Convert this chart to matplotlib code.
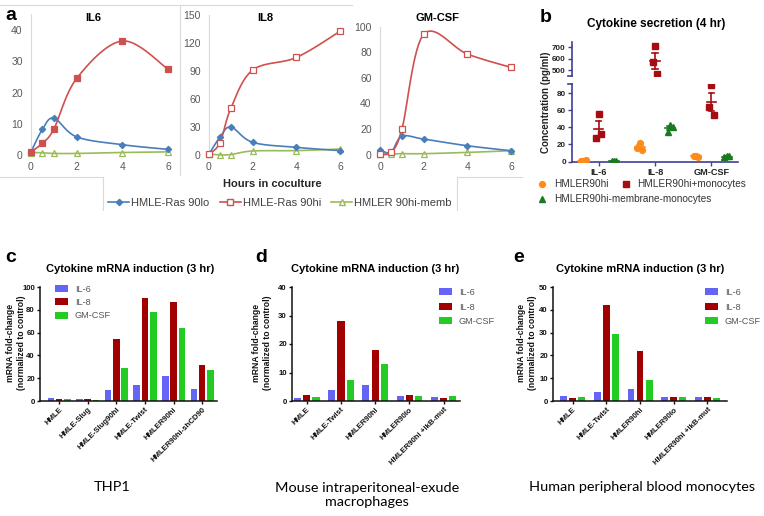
import numpy as np
import matplotlib
matplotlib.use('Agg')
import matplotlib.pyplot as plt
from matplotlib.lines import Line2D

plt.rcParams['font.family'] = ['Liberation Sans', 'DejaVu Sans']

W, H = 764, 516

# ---------------- Panel a data ----------------
hours = [0, 0.5, 1, 2, 4, 6]
a_series = ['HMLE-Ras 90lo', 'HMLE-Ras 90hi', 'HMLER 90hi-memb']
il6_lo = [1.0, 8.2, 11.8, 5.8, 3.3, 1.8]
il6_hi = [1.0, 3.8, 8.3, 24.5, 36.5, 27.5]
il6_memb = [0.8, 0.7, 0.5, 0.5, 0.8, 1.0]
il8_lo = [1.0, 19.0, 30.0, 13.6, 8.2, 4.7]
il8_hi = [1.0, 13.0, 50.0, 91.0, 104.5, 132.5]
il8_memb = [1.0, 0.2, 0.5, 4.3, 4.7, 6.4]
gm_lo = [3.9, 1.8, 14.3, 12.2, 7.0, 3.1]
gm_hi = [0.5, 2.0, 19.8, 94.0, 78.6, 68.2]
gm_memb = [0.8, 0.5, 0.8, 0.8, 1.8, 3.1]
a_xticks = [0, 2, 4, 6]

# ---------------- Panel b data ----------------
b_groups = ['IL-6', 'IL-8', 'GM-CSF']
b_series = ['HMLER90hi', 'HMLER90hi+monocytes', 'HMLER90hi-membrane-monocytes']
b_90hi = [[1.0, 0.5, 1.5], [22.0, 16.0, 13.0], [7.0, 6.0, 5.0]]
b_mono = [[55.7, 27.5, 32.2], [708.0, 568.0, 468.0], [89.8, 64.0, 54.0]]
b_memb = [[0.3, 0.5, 0.2], [43.0, 34.0, 40.0], [6.5, 5.0, 6.0]]

# ---------------- Panels c, d, e data ----------------
cyto = ['IL-6', 'IL-8', 'GM-CSF']
c_cats = ['HMLE', 'HMLE-Slug', 'HMLE-Slug90hi', 'HMLE-Twist', 'HMLER90hi', 'HMLER90hi-shCD90']
c_il6 = [2.6, 1.5, 10.0, 13.8, 21.7, 10.8]
c_il8 = [1.5, 1.5, 54.0, 90.0, 86.5, 32.0]
c_gm = [1.5, 0.9, 29.3, 78.0, 63.6, 27.0]
de_cats = ['HMLE', 'HMLE-Twist', 'HMLER90hi', 'HMLER90lo', 'HMLER90hi +IkB-mut']
d_il6 = [1.2, 3.7, 5.5, 1.9, 1.4]
d_il8 = [2.1, 28.2, 18.0, 2.0, 1.0]
d_gm = [1.5, 7.3, 12.9, 1.9, 1.6]
e_il6 = [2.1, 4.1, 5.3, 1.8, 1.6]
e_il8 = [1.5, 41.9, 22.1, 1.8, 1.6]
e_gm = [1.8, 29.6, 9.2, 1.8, 1.3]

fig = plt.figure(figsize=(W / 100, H / 100), dpi=100)
fig.patch.set_facecolor('white')


def axpx(l, t, r, b):
    return fig.add_axes([l / W, 1 - b / H, (r - l) / W, (b - t) / H])


def fx(x):
    return x / W


def fy(y):
    return 1 - y / H


def smooth(x, y, xr, yr, n=24):
    P = np.column_stack([np.asarray(x, float) / xr, np.asarray(y, float) / yr])
    P = np.vstack([P[0], P, P[-1]])
    out = []
    t = np.linspace(0, 1, n, endpoint=False)[:, None]
    for i in range(1, len(P) - 2):
        p0, p1, p2, p3 = P[i - 1], P[i], P[i + 1], P[i + 2]
        m1 = (p2 - p0) / 2.0
        m2 = (p3 - p1) / 2.0
        h00 = 2 * t**3 - 3 * t**2 + 1
        h10 = t**3 - 2 * t**2 + t
        h01 = -2 * t**3 + 3 * t**2
        h11 = t**3 - t**2
        out.append(h00 * p1 + h10 * m1 + h01 * p2 + h11 * m2)
    out.append(P[-2][None, :])
    S = np.vstack(out)
    return S[:, 0] * xr, S[:, 1] * yr


# frame lines (excel chart borders)
gray = '#d9d9d9'
for (x0, y0, x1, y1) in [(0, 5, 352, 5), (180, 5, 180, 175), (0, 177, 103, 177), (103, 177, 103, 210),
                         (457, 177, 457, 210), (457, 177, 522, 177)]:
    fig.add_artist(Line2D([fx(x0), fx(x1)], [fy(y0), fy(y1)], color=gray, lw=0.8))

A_BLUE = '#4a7ebb'
A_RED = '#d0504d'
A_GREEN = '#9bbb59'

a_specs = [
    ('IL6', (31, 14.4, 168, 155), (0, 45), [0, 10, 20, 30, 40], il6_lo, il6_hi, il6_memb, True, 93),
    ('IL8', (209, 15, 340, 155), (0, 150), [0, 30, 60, 90, 120, 150], il8_lo, il8_hi, il8_memb, False, 265),
    ('GM-CSF', (380, 26.7, 511, 154.7), (0, 100), [0, 20, 40, 60, 80, 100], gm_lo, gm_hi, gm_memb, False, 437),
]
for title, box, ylim, yt, lo, hi, memb, hifill, tx in a_specs:
    ax = axpx(*box)
    ax.set_xlim(0, 6)
    ax.set_ylim(*ylim)
    for s in ['top', 'right', 'bottom']:
        ax.spines[s].set_visible(False)
    ax.spines['left'].set_color(gray)
    ax.spines['left'].set_linewidth(0.8)
    ax.set_xticks(a_xticks)
    ax.set_yticks(yt)
    ax.tick_params(length=0, labelsize=7.5, labelcolor='#595959', pad=6)
    ax.tick_params(axis='x', pad=5)
    for vals, col, mk, fc in [(memb, A_GREEN, '^', 'none'), (lo, A_BLUE, 'D', A_BLUE),
                              (hi, A_RED, 's', A_RED if hifill else 'white')]:
        sx, sy = smooth(hours, vals, 6.0, ylim[1])
        ax.plot(sx, sy, color=col, lw=1.2, clip_on=False, zorder=2)
        ax.plot(hours, vals, ls='none', marker=mk, ms=3.8 if mk != 'D' else 3.2, mfc=fc, mec=col,
                mew=0.9, clip_on=False, zorder=3)
    fig.text(fx(tx), fy(18), title, ha='center', va='center', fontsize=8, fontweight='bold')

fig.text(fx(5), fy(15), 'a', ha='left', va='center', fontsize=14, fontweight='bold')
fig.text(fx(272), fy(184), 'Hours in coculture', ha='center', va='center', fontsize=8, fontweight='bold',
         color='#262626')
a_handles = [Line2D([], [], color=A_BLUE, marker='D', ms=3.2, lw=1.2),
             Line2D([], [], color=A_RED, marker='s', ms=3.8, mfc='white', lw=1.2),
             Line2D([], [], color=A_GREEN, marker='^', ms=3.8, mfc='white', lw=1.2)]
fig.legend(a_handles, a_series, loc='center', bbox_to_anchor=(fx(280), fy(203)), ncol=3, frameon=False,
           fontsize=8, handlelength=1.9, handletextpad=0.2, columnspacing=0.9, borderpad=0,
           labelcolor='#404040')

# ---------------- Panel b ----------------
B_OR = '#ff8c1a'
B_RED = '#a50d12'
B_GR = '#197a1f'
B_AX = '#3f3f95'
axU = axpx(572, 42, 738, 76)
axL = axpx(572, 84, 738, 161.5)
axU.set_ylim(451, 743)
axL.set_ylim(0, 90.6)
for ax in (axU, axL):
    ax.set_xlim(-0.47, 2.47)
    ax.spines['top'].set_visible(False)
    ax.spines['right'].set_visible(False)
    ax.spines['left'].set_color(B_AX)
    ax.spines['left'].set_linewidth(1.2)
    ax.tick_params(axis='y', colors=B_AX, labelcolor='#222222', labelsize=5.8, length=3, width=1, pad=1.5)
axU.spines['bottom'].set_visible(False)
axU.set_xticks([])
axU.set_yticks([500, 600, 700])
axL.set_yticks([0, 20, 40, 60, 80])
axL.spines['bottom'].set_color(B_AX)
axL.spines['bottom'].set_linewidth(1.2)
axL.set_xticks(range(len(b_groups)))
axL.set_xticklabels(b_groups, fontweight='bold', fontsize=6.6)
axL.tick_params(axis='x', colors=B_AX, labelcolor='#222222', length=3, width=1, pad=2)
for ax in (axU, axL):
    for lab in ax.get_yticklabels():
        lab.set_fontweight('bold')
# break marks
axU.plot([-0.025, 0], [0, 0], transform=axU.transAxes, color=B_AX, lw=1.2, clip_on=False)
axL.plot([-0.025, 0], [1, 1], transform=axL.transAxes, color=B_AX, lw=1.2, clip_on=False)

jit = [0.0, -0.04, 0.04]
for offs, data, col, mk, ms in [(-0.27, b_90hi, B_OR, 'o', 4.2), (0.0, b_mono, B_RED, 's', 4.2),
                                 (0.27, b_memb, B_GR, '^', 4.5)]:
    for gi, vals in enumerate(data):
        xc = gi + offs
        m = np.mean(vals)
        sem = np.std(vals, ddof=1) / np.sqrt(len(vals))
        for ax in (axU, axL):
            ax.plot([xc + j for j in jit], vals, ls='none', marker=mk, ms=ms, color=col, mec=col, zorder=3)
            ax.plot([xc - 0.085, xc + 0.085], [m, m], color=col, lw=1.2, zorder=4)
            ax.plot([xc, xc], [m - sem, m + sem], color=col, lw=1.2, zorder=4)
            for v in (m - sem, m + sem):
                ax.plot([xc - 0.05, xc + 0.05], [v, v], color=col, lw=1.2, zorder=4)

fig.text(fx(656), fy(24), 'Cytokine secretion (4 hr)', ha='center', va='center', fontsize=8.5,
         fontweight='bold')
fig.text(fx(546), fy(102), 'Concentration (pg/ml)', ha='center', va='center', rotation=90, fontsize=7,
         fontweight='bold', color='#222222')
fig.text(fx(540), fy(17), 'b', ha='left', va='center', fontsize=14, fontweight='bold')
b_handles = [Line2D([], [], ls='none', marker='o', ms=4.2, color=B_OR),
             Line2D([], [], ls='none', marker='s', ms=4.2, color=B_RED),
             Line2D([], [], ls='none', marker='^', ms=4.5, color=B_GR)]
fig.legend(b_handles[:2], b_series[:2], loc='center left', bbox_to_anchor=(fx(531), fy(184)), ncol=2,
           frameon=False, fontsize=7.2, handlelength=1.2, handletextpad=0.6, columnspacing=1.1, borderpad=0,
           labelcolor='#333333')
fig.legend(b_handles[2:], b_series[2:], loc='center left', bbox_to_anchor=(fx(531), fy(199)), ncol=1,
           frameon=False, fontsize=7.2, handlelength=1.2, handletextpad=0.6, borderpad=0,
           labelcolor='#333333')

# ---------------- Panels c, d, e ----------------
C_BLUE = '#6464f5'
C_RED = '#a00000'
C_GREEN = '#22cc22'
bar_specs = [
    ('c', (40, 287, 217, 401), (-0.67, 5.52), (0, 100), [0, 20, 40, 60, 80, 100], c_cats,
     (c_il6, c_il8, c_gm), 0.29, 0.23, 5, 130, (16, 343), (fx(55), fy(285)), 0.45),
    ('d', (292, 287, 460, 401), (-0.43, 4.48), (0, 40), [0, 10, 20, 30, 40], de_cats,
     (d_il6, d_il8, d_gm), 0.27, 0.21, 255, 375, (262, 343), (fx(439), fy(288)), 0.6),
    ('e', (553, 287, 727, 401), (-0.585, 4.58), (0, 50), [0, 10, 20, 30, 40, 50], de_cats,
     (e_il6, e_il8, e_gm), 0.27, 0.20, 513, 640, (527, 343), (fx(705), fy(288)), 0.6),
]
for (lab, box, xl, yl, yt, cats, series, step, bw, labx, titx, ylab, leg, lsp) in bar_specs:
    ax = axpx(*box)
    x = np.arange(len(cats))
    for k, (vals, col) in enumerate(zip(series, (C_BLUE, C_RED, C_GREEN))):
        ax.bar(x + (k - 1) * step, vals, width=bw, color=col, label=cyto[k], zorder=2)
    ax.set_xlim(*xl)
    ax.set_ylim(*yl)
    ax.set_yticks(yt)
    ax.set_xticks(x)
    ax.set_xticklabels(cats, rotation=45, ha='right', va='top', rotation_mode='anchor', fontsize=5.4,
                       fontweight='bold')
    for s in ['top', 'right']:
        ax.spines[s].set_visible(False)
    for s in ['left', 'bottom']:
        ax.spines[s].set_linewidth(1.1)
        ax.spines[s].set_color('#111111')
    ax.tick_params(length=2.5, width=1, labelsize=5.6, colors='#111111', pad=1.2)
    for t in ax.get_yticklabels():
        t.set_fontweight('bold')
    ax.legend(loc='upper left', bbox_to_anchor=leg, bbox_transform=fig.transFigure, frameon=False,
              fontsize=6.6, handlelength=1.45, handleheight=0.78, handletextpad=0.7, labelspacing=lsp,
              borderpad=0, borderaxespad=0, labelcolor='#555555')
    fig.text(fx(titx), fy(269), 'Cytokine mRNA induction (3 hr)', ha='center', va='center', fontsize=8,
             fontweight='bold')
    fig.text(fx(labx), fy(258), lab, ha='left', va='center', fontsize=14, fontweight='bold')
    fig.text(fx(ylab[0]), fy(ylab[1]), 'mRNA fold-change\n(normalized to control)', ha='center', va='center',
             rotation=90, fontsize=6.2, fontweight='bold', linespacing=1.2, color='#111111')

fig.text(fx(112), fy(487), 'THP1', ha='center', va='center', fontsize=10.4, family=['Lato', 'DejaVu Sans'])
fig.text(fx(367), fy(495), 'Mouse intraperitoneal-exude\nmacrophages', ha='center', va='center', fontsize=10.4,
         family=['Lato', 'DejaVu Sans'], linespacing=1.2)
fig.text(fx(642), fy(487), 'Human peripheral blood monocytes', ha='center', va='center', fontsize=10.4,
         family=['Lato', 'DejaVu Sans'])

fig.savefig('out.png', dpi=100, facecolor='white')
